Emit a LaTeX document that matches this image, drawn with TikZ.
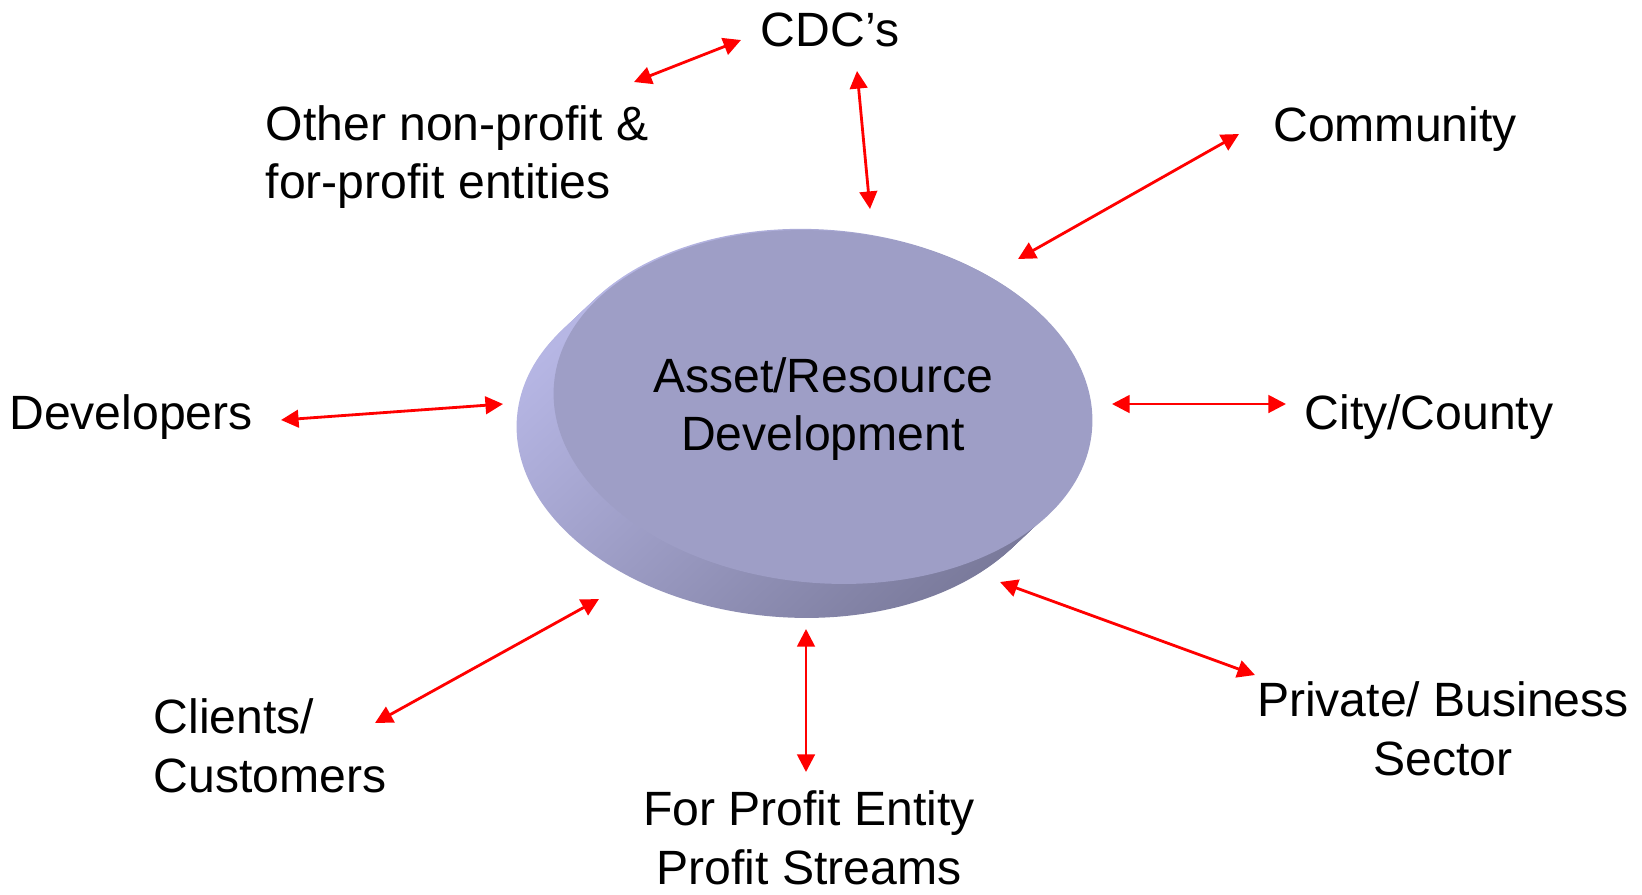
\documentclass[tikz,border=0pt]{standalone}
\usepackage{fontspec}
\setmainfont{Liberation Sans}
\usetikzlibrary{arrows.meta}

\definecolor{discTop}{RGB}{158,158,198}
\definecolor{discLight}{RGB}{182,182,228}
\definecolor{discDark}{RGB}{122,122,155}
\definecolor{linkRed}{RGB}{255,0,0}

\tikzset{
  label text/.style={font=\fontsize{27.4}{33.3}\selectfont, inner sep=0pt, align=center},
  link/.style={draw=linkRed, line width=1.6pt,
    {Triangle[length=10pt,width=10pt]}-{Triangle[length=10pt,width=10pt]}},
}

\begin{document}
\begin{tikzpicture}[x=0.02cm, y=-0.02cm]
\useasboundingbox (0,0) rectangle (1642,894);

% Disc: side built from stacked ellipses, then the top face
\foreach \t in {0,0.05,...,1.0}
  \shade[top color=discLight, bottom color=discDark, shading angle=45,
    rotate around={-5:({786+37*\t},{440-35*\t})}]
    ({786+37*\t},{440-35*\t}) ellipse [x radius=270, y radius=177];
\fill[discTop, rotate around={-5:(823,407)}] (823,407) ellipse [x radius=270, y radius=176];

\node[label text] (asset) at (823,409) {Asset/Resource\\Development};

% Surrounding partners
\node[label text] (cdc) at (830,30) {CDC’s};
\node[label text, align=left] (other) at (457,157) {Other non-profit \&\\for-profit entities};
\node[label text] (community) at (1395,129) {Community};
\node[label text] (developers) at (131,417) {Developers};
\node[label text] (city) at (1429,417) {City/County};
\node[label text, align=left] (clients) at (270,746) {Clients/\\Customers};
\node[label text] (forprofit) at (809,838) {For Profit Entity\\Profit Streams};
\node[label text] (private) at (1443,729) {Private/ Business\\Sector};

% Arrow end points
\coordinate (otherTip) at (634,82);
\coordinate (cdcLeftTip) at (741,40);
\coordinate (cdcLowTip) at (857,71);
\coordinate (assetTopTip) at (870,209);
\coordinate (assetNETip) at (1018,259);
\coordinate (communityTip) at (1239,134);
\coordinate (developersTip) at (281,420);
\coordinate (assetWTip) at (503,404);
\coordinate (assetETip) at (1112,404);
\coordinate (cityTip) at (1286,404);
\coordinate (clientsTip) at (375,723);
\coordinate (assetSWTip) at (599,599);
\coordinate (assetSTip) at (806,629);
\coordinate (forprofitTip) at (806,772);
\coordinate (assetSETip) at (1000,582);
\coordinate (privateTip) at (1255,675);

% Two-way links
\draw[link] (otherTip) -- (cdcLeftTip);
\draw[link] (cdcLowTip) -- (assetTopTip);
\draw[link] (assetNETip) -- (communityTip);
\draw[link] (developersTip) -- (assetWTip);
\draw[link] (assetETip) -- (cityTip);
\draw[link] (clientsTip) -- (assetSWTip);
\draw[link] (assetSTip) -- (forprofitTip);
\draw[link] (assetSETip) -- (privateTip);

\end{tikzpicture}
\end{document}
